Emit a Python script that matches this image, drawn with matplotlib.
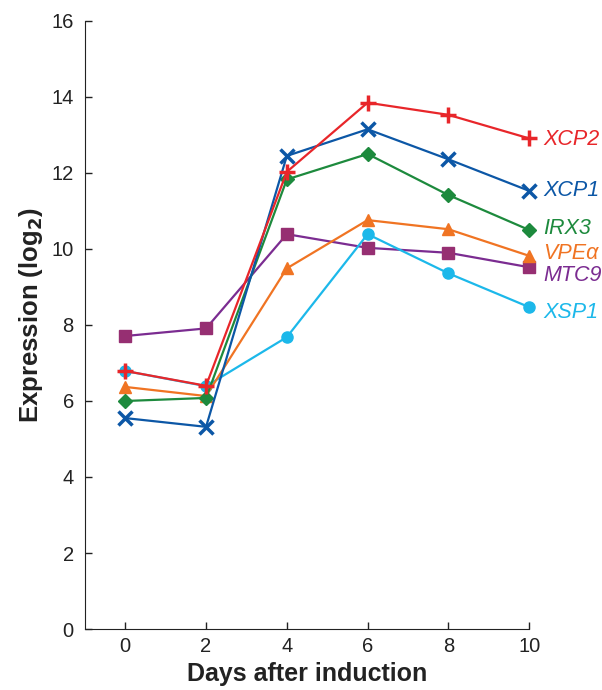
import matplotlib
matplotlib.use("Agg")
import matplotlib.pyplot as plt

plt.rcParams['font.family'] = ['Liberation Sans', 'DejaVu Sans']

days = [0, 2, 4, 6, 8, 10]
xcp2 = [6.79, 6.40, 12.03, 13.85, 13.53, 12.91]
xcp1 = [5.55, 5.32, 12.45, 13.15, 12.36, 11.53]
irx3 = [6.00, 6.08, 11.83, 12.50, 11.42, 10.50]
vpe = [6.37, 6.13, 9.49, 10.76, 10.52, 9.82]
mtc9 = [7.71, 7.91, 10.39, 10.03, 9.90, 9.52]
xsp1 = [6.79, 6.39, 7.68, 10.39, 9.36, 8.47]

# name, values, line colour, marker, marker colour, label y
series = [
    ('MTC9', mtc9, '#7b2c91', 's', '#962f72', 9.3),
    ('XSP1', xsp1, '#1cb8ea', 'o', '#1cb8ea', 8.32),
    ('VPEα', vpe, '#f07423', '^', '#f07423', 9.87),
    ('IRX3', irx3, '#1d8a3d', 'D', '#1d8a3d', 10.53),
    ('XCP1', xcp1, '#0c57a6', 'x', '#0c57a6', 11.55),
    ('XCP2', xcp2, '#e8262a', '+', '#e8262a', 12.87),
]
marker_size = {'s': 9, 'o': 8, '^': 9, 'D': 7, 'x': 10, '+': 12}

fig = plt.figure(figsize=(6.02, 6.90), dpi=100)
ax = fig.add_axes([0.141, 0.0884, 0.738, 0.8812])

for name, vals, lc, mk, mc, ly in series:
    ax.plot(days, vals, color=lc, lw=1.6, marker=mk, ms=marker_size[mk],
            mfc=mc, mec=mc, mew=2.5 if mk in 'x+' else 1, zorder=3,
            clip_on=False)
    ax.annotate(name, xy=(10, ly), xytext=(10, 0), textcoords='offset points',
                color=lc, fontsize=15.5, style='italic', va='center',
                annotation_clip=False)

ax.set_xlim(-1, 10)
ax.set_ylim(0, 16)
ax.set_xticks(days)
ax.set_yticks(range(0, 17, 2))
ax.tick_params(direction='in', length=5, labelsize=14.5, width=1, colors='#222222')
ax.tick_params(axis='x', pad=6)
ax.tick_params(axis='y', pad=8)
for s in ('left', 'bottom'):
    ax.spines[s].set_color('#222222')
ax.spines['top'].set_visible(False)
ax.spines['right'].set_visible(False)
ax.set_xlabel('Days after induction', fontsize=18, fontweight='bold', labelpad=4,
              color='#222222')
ax.set_ylabel('Expression (log$_\\mathbf{2}$)', fontsize=18.5, fontweight='bold',
              color='#222222')
ax.yaxis.set_label_coords(-0.09, 0.516)

fig.savefig('out.png', dpi=100)
